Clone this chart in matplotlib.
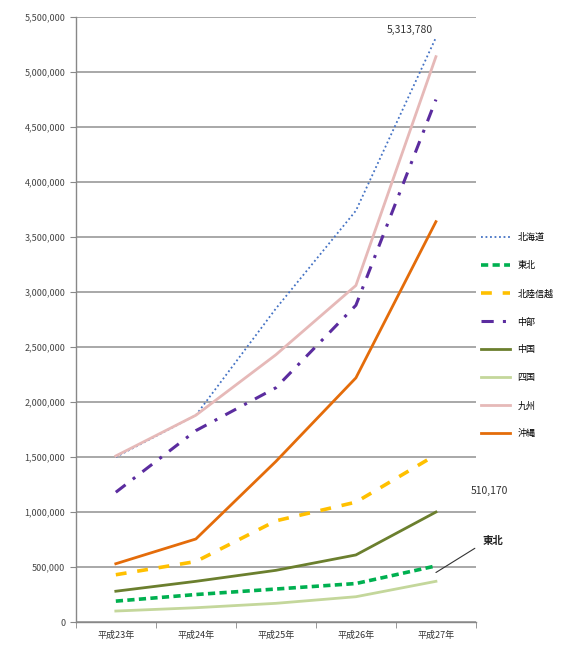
import matplotlib
matplotlib.use("Agg")
import matplotlib.pyplot as plt
from matplotlib.ticker import FuncFormatter, FixedLocator

plt.rcParams['font.family'] = ['Noto Sans CJK JP', 'DejaVu Sans']

years = ['平成23年', '平成24年', '平成25年', '平成26年', '平成27年']
hokkaido = [1500000, 1880000, 2850000, 3740000, 5313780]
tohoku = [190000, 250000, 300000, 350000, 510170]
hokuriku = [430000, 550000, 920000, 1090000, 1520000]
chubu = [1180000, 1740000, 2130000, 2880000, 4750000]
chugoku = [280000, 370000, 470000, 610000, 1000000]
shikoku = [100000, 130000, 170000, 230000, 370000]
kyushu = [1510000, 1880000, 2430000, 3060000, 5140000]
okinawa = [530000, 755000, 1460000, 2220000, 3640000]

names = ['北海道', '東北', '北陸信越', '中部', '中国', '四国', '九州', '沖縄']
series = [hokkaido, tohoku, hokuriku, chubu, chugoku, shikoku, kyushu, okinawa]
styles = [
    dict(color='#4472C4', lw=1.3, ls=(0, (1, 1.5))),
    dict(color='#00B050', lw=2.6, ls=(0, (2, 1.2))),
    dict(color='#FFC000', lw=2.6, ls=(0, (3, 3))),
    dict(color='#5B2C9F', lw=2.2, ls=(0, (4, 3, 1, 3))),
    dict(color='#6B7F2E', lw=2.0, ls='-'),
    dict(color='#C4D79B', lw=2.0, ls='-'),
    dict(color='#E6B9B8', lw=2.0, ls='-'),
    dict(color='#E46C0A', lw=2.0, ls='-'),
]

fig = plt.figure(figsize=(5.7, 6.47), dpi=100)
ax = fig.add_axes([0.133, 0.0386, 0.702, 0.935])

x = list(range(len(years)))
handles = []
for name, vals, st in zip(names, series, styles):
    h, = ax.plot(x, vals, label=name, zorder=3, **st)
    handles.append(h)

ax.set_xlim(-0.5, 4.5)
ax.set_ylim(0, 5500000)
ax.set_yticks(range(0, 5500001, 500000))
ax.yaxis.set_major_formatter(FuncFormatter(lambda v, p: f'{int(v):,}'))
ax.set_xticks(x)
ax.set_xticklabels(years)
ax.xaxis.set_minor_locator(FixedLocator([-0.5, 0.5, 1.5, 2.5, 3.5, 4.5]))
ax.tick_params(axis='x', which='major', length=0, labelsize=6.5, colors='#333333', pad=6)
ax.tick_params(axis='x', which='minor', length=4, color='#888888', direction='out')
ax.tick_params(axis='y', length=4, color='#888888', labelsize=6.5, labelcolor='#444444')

ax.grid(axis='y', color='#9a9a9a', lw=1.2, zorder=0)
for s in ['top', 'right']:
    ax.spines[s].set_visible(False)
for s in ['left', 'bottom']:
    ax.spines[s].set_color('#888888')
    ax.spines[s].set_linewidth(1.0)

ax.annotate(f'{hokkaido[-1]:,}', xy=(4, hokkaido[-1]), xytext=(-2, 2),
            textcoords='offset points', ha='right', va='bottom', fontsize=7.5, color='#333333')
ax.annotate(f'{tohoku[-1]:,}', xy=(4, tohoku[-1]), xycoords='data',
            xytext=(4.44, 1190000), textcoords='data', ha='left', va='center',
            fontsize=7.5, color='#333333', annotation_clip=False)
ax.annotate('東北', xy=(4, tohoku[-1] - 60000), xytext=(4.58, 740000),
            ha='left', va='center', fontsize=7.5, fontweight='bold', color='#222222',
            annotation_clip=False,
            arrowprops=dict(arrowstyle='-', color='#333333', lw=0.8,
                            shrinkA=4, shrinkB=0, relpos=(0, 0.2)))

leg = fig.legend(handles=handles, labels=names, loc='upper left',
                 bbox_to_anchor=(0.83, 0.652), frameon=False, fontsize=6.5,
                 handlelength=3.2, labelspacing=2.1, handletextpad=0.8)

fig.savefig('out.png', dpi=100)
